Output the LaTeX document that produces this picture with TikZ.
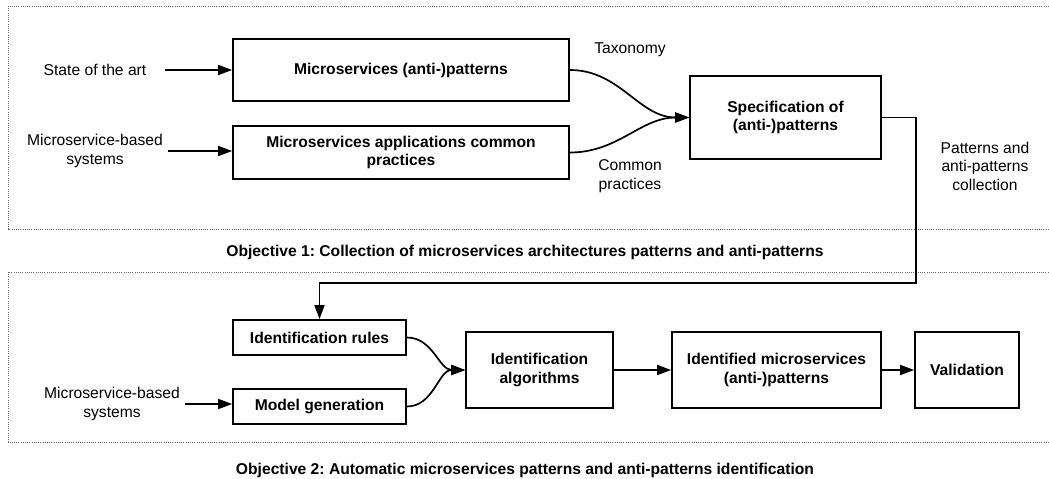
\documentclass[tikz,border=0pt]{standalone}
\usepackage{fontspec}
\setmainfont{Liberation Sans}
\usetikzlibrary{arrows.meta}
\frenchspacing

\begin{document}
\begin{tikzpicture}[x=1bp,y=-1bp,line width=1.7bp,
  >={Triangle[length=14bp,width=10bp]},
  font=\fontsize{15.7}{18.5}\selectfont,
  box/.style={draw,align=center,inner sep=0pt,font=\fontsize{15.7}{18.5}\selectfont\bfseries},
  lbl/.style={align=center,inner sep=0pt},
  frame/.style={draw=black!60,line width=0.8bp,dash pattern=on 1bp off 1.2bp}]
  \useasboundingbox (0,0) rectangle (1049,479);
  \draw[frame] (8,6) rectangle (1070,229);
  \draw[frame] (8,272) rectangle (1070,442);

  \node[box,minimum width=336bp,minimum height=62bp] (pat) at (401,70) {Microservices (anti-)patterns};
  \node[box,minimum width=336bp,minimum height=53bp] (prac) at (401,152.5) {Microservices applications common\\practices};
  \node[box,minimum width=191bp,minimum height=83bp] (spec) at (785.5,117.5) {Specification of\\(anti-)patterns};
  \node[box,minimum width=173bp,minimum height=35bp] (rules) at (319.5,337.5) {Identification rules};
  \node[box,minimum width=173bp,minimum height=35bp] (model) at (319.5,406.5) {Model generation};
  \node[box,minimum width=147bp,minimum height=76bp] (algo) at (539.5,370) {Identification\\algorithms};
  \node[box,minimum width=209bp,minimum height=76bp] (ident) at (776.5,370) {Identified microservices\\(anti-)patterns};
  \node[box,minimum width=104bp,minimum height=76bp] (valid) at (967,370) {Validation};

  \node[lbl] (sota) at (95,70) {State of the art};
  \node[lbl] (sys1) at (95,151) {Microservice-based\\systems};
  \node[lbl] (tax) at (630,50) {Taxonomy};
  \node[lbl] (cprac) at (630,176) {Common\\practices};
  \node[lbl] (coll) at (985,166) {Patterns and\\anti-patterns\\collection};
  \node[lbl] (sys2) at (112,404) {Microservice-based\\systems};
  \node[lbl,font=\fontsize{15.7}{18.5}\selectfont\bfseries] (obj1) at (525,252) {Objective 1: Collection of microservices architectures patterns and anti-patterns};
  \node[lbl,font=\fontsize{15.7}{18.5}\selectfont\bfseries] (obj2) at (525,470) {Objective 2: Automatic microservices patterns and anti-patterns identification};

  \coordinate (turn) at (916,283);
  \path[->]
    (sota.east) edge[shorten <=18bp] (sota.east -| pat.west)
    (sys1.east) edge[shorten <=4bp] (sys1.east -| prac.west)
    (pat.east) edge[out=0,in=180] (spec.west)
    (prac.east) edge[out=0,in=180] (spec.west)
    (sys2.east) edge[shorten <=4bp] (sys2.east -| model.west)
    (rules.east) edge[out=0,in=180] (algo.west)
    (model.east) edge[out=0,in=180] (algo.west)
    (algo) edge (ident)
    (ident) edge (valid);
  \draw[->] (spec.east) -| (turn) -| (rules.north);
\end{tikzpicture}
\end{document}
